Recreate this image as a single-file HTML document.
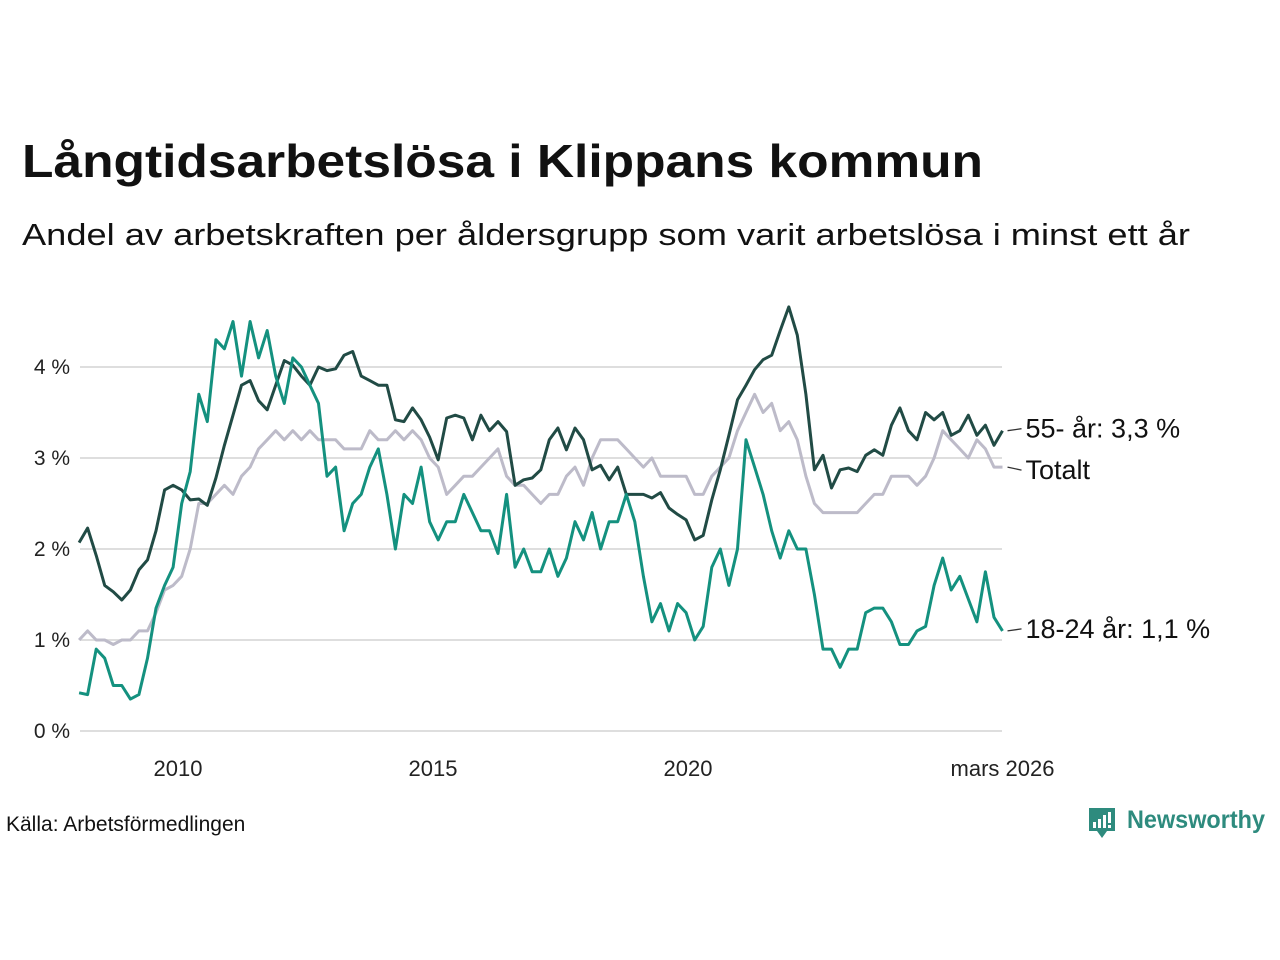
<!DOCTYPE html>
<html><head><meta charset="utf-8"><style>
body{margin:0;background:#fff;}
svg{display:block;font-family:"Liberation Sans",sans-serif;}
</style></head><body>
<svg id="chart" width="1280" height="960">
<text x="22" y="177" font-size="46" font-weight="bold" fill="#111" textLength="961" lengthAdjust="spacingAndGlyphs">Långtidsarbetslösa i Klippans kommun</text>
<text x="22" y="245" font-size="31" fill="#111" textLength="1168" lengthAdjust="spacingAndGlyphs">Andel av arbetskraften per åldersgrupp som varit arbetslösa i minst ett år</text>
<g id="grid"></g><g id="series"></g><g id="labels"></g>
<text x="6" y="831" font-size="21" fill="#111">Källa: Arbetsförmedlingen</text>
<g>
<path d="M1089 808h26v23h-8l-5 7-5-7h-8z" fill="#2e8b7e"/>
<rect x="1093" y="822" width="3" height="6" fill="#fff"/><rect x="1098" y="819" width="3" height="9" fill="#fff"/><rect x="1103" y="815" width="3" height="13" fill="#fff"/><rect x="1108" y="812" width="3" height="11" fill="#fff"/><rect x="1108" y="825" width="3" height="3" fill="#fff"/>
<text x="1127" y="828" font-size="25" font-weight="bold" fill="#2e8b7e" textLength="138" lengthAdjust="spacingAndGlyphs">Newsworthy</text>
</g>
</svg>
<script>
const startYear = 2008.06, endYear = 2026.167;
const yTicks = [0,1,2,3,4];
const xTickYears = [2010,2015,2020];
const xTickLabels = ["2010","2015","2020"];
const old55 = [2.07,2.23,1.93,1.6,1.53,1.44,1.55,1.77,1.88,2.2,2.65,2.7,2.65,2.54,2.55,2.48,2.78,3.14,3.47,3.8,3.85,3.63,3.53,3.8,4.07,4.02,3.9,3.8,4.0,3.96,3.98,4.13,4.17,3.9,3.85,3.8,3.8,3.42,3.4,3.55,3.42,3.23,2.98,3.44,3.47,3.44,3.2,3.47,3.3,3.4,3.29,2.7,2.76,2.78,2.87,3.2,3.33,3.09,3.33,3.2,2.87,2.92,2.76,2.9,2.6,2.6,2.6,2.56,2.62,2.45,2.38,2.32,2.1,2.15,2.54,2.87,3.25,3.64,3.8,3.97,4.08,4.13,4.4,4.66,4.35,3.7,2.87,3.03,2.67,2.87,2.89,2.85,3.03,3.09,3.03,3.36,3.55,3.3,3.2,3.5,3.42,3.5,3.25,3.3,3.47,3.25,3.36,3.14,3.3];
const total = [1.0,1.1,1.0,1.0,0.95,1.0,1.0,1.1,1.1,1.3,1.55,1.6,1.7,2.0,2.5,2.5,2.6,2.7,2.6,2.8,2.9,3.1,3.2,3.3,3.2,3.3,3.2,3.3,3.2,3.2,3.2,3.1,3.1,3.1,3.3,3.2,3.2,3.3,3.2,3.3,3.2,3.0,2.9,2.6,2.7,2.8,2.8,2.9,3.0,3.1,2.8,2.7,2.7,2.6,2.5,2.6,2.6,2.8,2.9,2.7,3.0,3.2,3.2,3.2,3.1,3.0,2.9,3.0,2.8,2.8,2.8,2.8,2.6,2.6,2.8,2.9,3.0,3.3,3.5,3.7,3.5,3.6,3.3,3.4,3.2,2.8,2.5,2.4,2.4,2.4,2.4,2.4,2.5,2.6,2.6,2.8,2.8,2.8,2.7,2.8,3.0,3.3,3.2,3.1,3.0,3.2,3.1,2.9,2.9];
const young = [0.42,0.4,0.9,0.8,0.5,0.5,0.35,0.4,0.8,1.35,1.6,1.8,2.5,2.85,3.7,3.4,4.3,4.2,4.5,3.9,4.5,4.1,4.4,3.9,3.6,4.1,4.0,3.8,3.6,2.8,2.9,2.2,2.5,2.6,2.9,3.1,2.6,2.0,2.6,2.5,2.9,2.3,2.1,2.3,2.3,2.6,2.4,2.2,2.2,1.95,2.6,1.8,2.0,1.75,1.75,2.0,1.7,1.9,2.3,2.1,2.4,2.0,2.3,2.3,2.6,2.3,1.7,1.2,1.4,1.1,1.4,1.3,1.0,1.15,1.8,2.0,1.6,2.0,3.2,2.9,2.6,2.2,1.9,2.2,2.0,2.0,1.5,0.9,0.9,0.7,0.9,0.9,1.3,1.35,1.35,1.2,0.95,0.95,1.1,1.15,1.6,1.9,1.55,1.7,1.45,1.2,1.75,1.25,1.1];

const NS="http://www.w3.org/2000/svg";
const X = yr => 178 + (yr-2010)*51;
const Y = v => 731 - v*91;
function mk(tag, attrs, parent){const e=document.createElementNS(NS,tag);for(const k in attrs)e.setAttribute(k,attrs[k]);parent.appendChild(e);return e;}
const grid=document.getElementById('grid'), ser=document.getElementById('series'), lab=document.getElementById('labels');
yTicks.forEach(t=>{
  const l=mk('line',{x1:80,x2:1002,y1:Y(t),y2:Y(t),stroke:'#dedede','stroke-width':2},grid);
  
  
  const tx=mk('text',{x:70,y:Y(t)+7,'font-size':21,fill:'#222','text-anchor':'end'},grid);
  tx.textContent=t+' %';
  
  
});
xTickYears.forEach((yr,i)=>{
  const tx=mk('text',{x:X(yr),y:776,'font-size':22,fill:'#222','text-anchor':'middle'},grid);
  tx.textContent=xTickLabels[i];
  
  
});
const et=mk('text',{x:X(endYear),y:776,'font-size':22,fill:'#222','text-anchor':'middle'},grid);
et.textContent='mars 2026';


function xAt(i,n){return X(startYear + i*(endYear-startYear)/(n-1));}
function draw(arr,color,name){
  const d=arr.map((v,i)=>(i?'L':'M')+xAt(i,arr.length).toFixed(1)+' '+Y(v).toFixed(1)).join(' ');
  const p=mk('path',{d:d,fill:'none',stroke:color,'stroke-width':3,'stroke-linejoin':'round'},ser);
  
  
}
draw(total,'#bdbbc9','line-totalt');
draw(old55,'#214b45','line-55');
draw(young,'#14917f','line-18-24');
function endLabel(arr,text,dy,name){
  const v=arr[arr.length-1], x=X(endYear), y=Y(v);
  mk('path',{d:`M${x+5} ${y} L${x+19} ${y+dy}`,stroke:'#333','stroke-width':1.3,fill:'none'},lab);
  const tx=mk('text',{x:x+23,y:y+dy+9,'font-size':27,fill:'#111'},lab);
  tx.textContent=text;
  
  
}
endLabel(old55,'55- år: '+old55[old55.length-1].toFixed(1).replace('.',',')+' %',-2,'label-55');
endLabel(total,'Totalt',3,'label-totalt');
endLabel(young,'18-24 år: '+young[young.length-1].toFixed(1).replace('.',',')+' %',-2,'label-18-24');
</script>
</body></html>
